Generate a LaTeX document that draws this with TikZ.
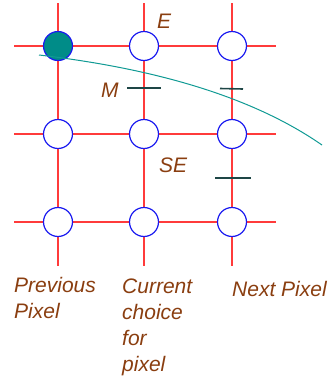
\documentclass[tikz,border=0pt]{standalone}
\usepackage{fontspec}
\setmainfont{Liberation Sans}
\definecolor{gridred}{HTML}{FF3B3B}
\definecolor{pixblue}{HTML}{1A1AF0}
\definecolor{tealfill}{HTML}{008C88}
\definecolor{curveteal}{HTML}{109A94}
\definecolor{tickdark}{HTML}{1E4646}
\definecolor{labelbrown}{HTML}{8A3E10}
\newcommand{\lines}[1]{\begin{tabular}[t]{@{}l@{}}#1\end{tabular}}
\begin{document}
\begin{tikzpicture}[x=1pt,y=-1pt,
  gridline/.style={gridred,line width=1.3pt},
  pixel/.style={circle,draw=pixblue,fill=white,line width=1.2pt,minimum size=29pt,inner sep=0pt},
  tick/.style={tickdark,line width=1.6pt},
  lbl/.style={text=labelbrown,font=\fontsize{21}{26}\selectfont\itshape,inner sep=0pt,anchor=base west}]
\useasboundingbox (0,0) rectangle (334,381);
% grid lines
\foreach \x in {58,144,232}{\draw[gridline] (\x,3) -- (\x,266);}
\foreach \y in {46,134,222}{\draw[gridline] (14,\y) -- (276,\y);}
% pixels
\node[pixel,fill=tealfill] (p11) at (58,46) {};
\node[pixel] (p12) at (144,46) {};
\node[pixel] (p13) at (232,46) {};
\node[pixel] (p21) at (58,134) {};
\node[pixel] (p22) at (144,134) {};
\node[pixel] (p23) at (232,134) {};
\node[pixel] (p31) at (58,222) {};
\node[pixel] (p32) at (144,222) {};
\node[pixel] (p33) at (232,222) {};
% curve
\draw[curveteal,line width=1pt] (39,55) .. controls (150,68) and (250,95) .. (322,145);
% midpoint ticks
\coordinate (m1a) at (127,88); \coordinate (m1b) at (161,88);
\coordinate (m2a) at (220,88.5); \coordinate (m2b) at (243,89);
\coordinate (m3a) at (215,178); \coordinate (m3b) at (251,178);
\draw[tick] (m1a) -- (m1b);
\draw[tick] (m2a) -- (m2b);
\draw[tick] (m3a) -- (m3b);
% labels
\node[lbl] (E) at (157,28) {E};
\node[lbl] (M) at (101,97) {M};
\node[lbl] (SE) at (159,172) {SE};
\node[lbl] (prev) at (14,292) {\lines{Previous\\Pixel}};
\node[lbl] (cur) at (122,293) {\lines{Current\\choice\\for\\pixel}};
\node[lbl] (next) at (232,296) {Next Pixel};
\end{tikzpicture}
\end{document}
